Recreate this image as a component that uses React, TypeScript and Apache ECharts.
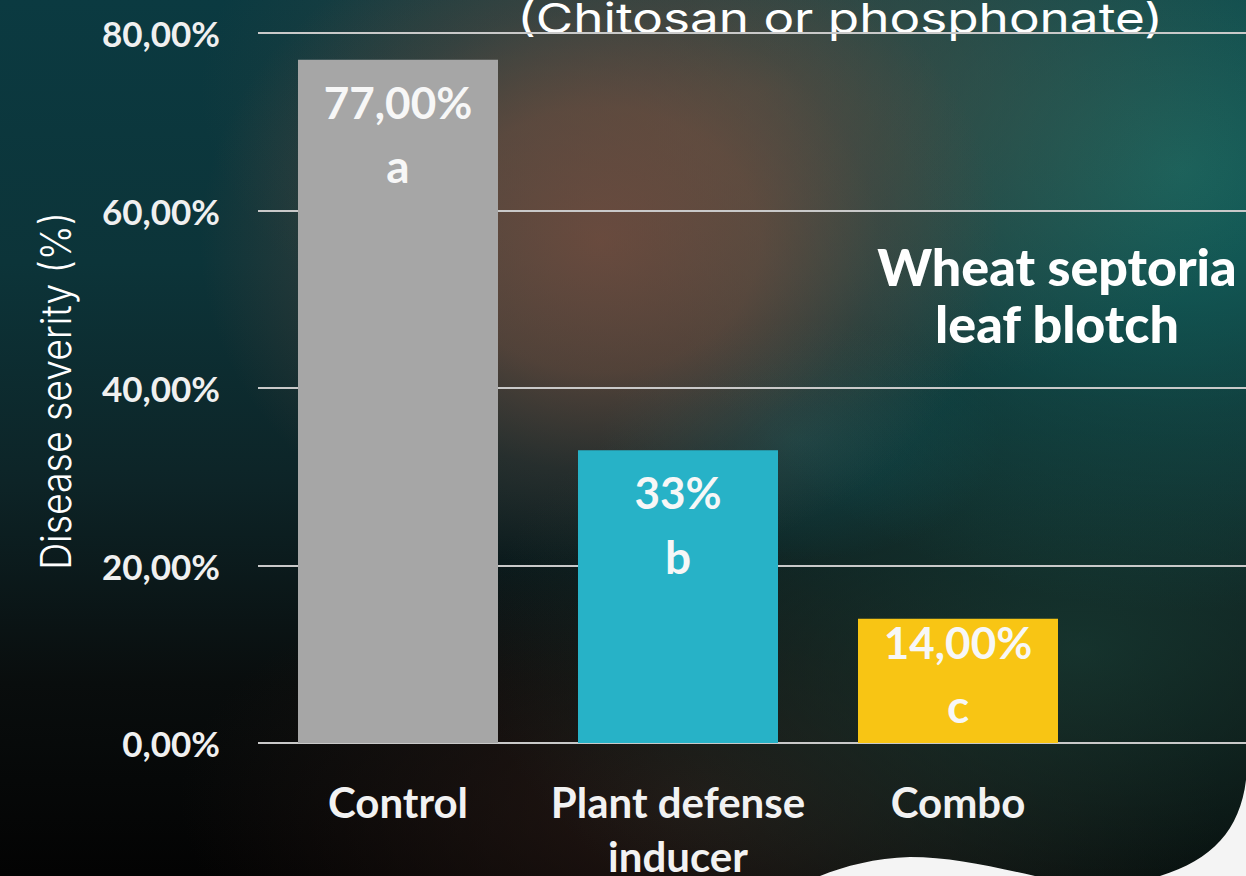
import React, { useEffect, useRef } from "react";
import * as echarts from "echarts";

const categories = ["Control", "Plant defense\ninducer", "Combo"];
const severity = [77, 33, 14];
const valueLabels = ["77,00%", "33%", "14,00%"];
const letters = ["a", "b", "c"];
const barColors = ["#a6a6a6", "#27b2c7", "#f8c514"];
const yMin = 0;
const yMax = 80;
const yStep = 20;
const titleText = "(Chitosan or phosphonate)";
const noteLines = ["Wheat septoria", "leaf blotch"];
const yName = "Disease severity (%)";

const SHAPE_D =
  "M 820 876 C 845 866 875 858 910 857 C 950 857 990 866 1035 876 Z M 1246 780 C 1240 830 1212 860 1160 876 L 1246 876 Z";
let registered = false;
function ensureShape() {
  if (registered) return;
  echarts.graphic.registerShape("bgCorner", echarts.graphic.extendPath(SHAPE_D, {}));
  registered = true;
}

const fmtTick = (v: number) => v.toFixed(2).replace(".", ",") + "%";

export default function App() {
  const ref = useRef<HTMLDivElement>(null);
  useEffect(() => {
    if (!ref.current) return;
    ensureShape();
    const chart = echarts.init(ref.current, null, { renderer: "svg" });
    const option: any = {
      animation: false,
      backgroundColor: "transparent",
      grid: [
        { left: 258, width: 840, top: 33, bottom: 133, outerBoundsMode: "none", containLabel: false },
        { left: 258, right: 0, top: 33, bottom: 133, outerBoundsMode: "none", containLabel: false },
      ],
      xAxis: [
        {
          type: "category",
          gridIndex: 0,
          data: categories,
          axisLine: { show: false },
          axisTick: { show: false },
          axisLabel: {
            interval: 0,
            margin: 32,
            color: "#f2f2f2",
            fontFamily: "Lato",
            fontWeight: "bold",
            fontSize: 42,
            lineHeight: 54,
          },
        },
        { type: "value", gridIndex: 1, show: false, min: 0, max: 1 },
      ],
      yAxis: [
        {
          type: "value",
          gridIndex: 0,
          min: yMin,
          max: yMax,
          interval: yStep,
          axisLine: { show: false },
          axisTick: { show: false },
          splitLine: { show: false },
          axisLabel: {
            margin: 38,
            color: "#f0f0f0",
            fontFamily: "Lato",
            fontWeight: "bold",
            fontSize: 35,
            formatter: fmtTick,
          },
        },
        {
          type: "value",
          gridIndex: 1,
          min: yMin,
          max: yMax,
          interval: yStep,
          axisLine: { show: false },
          axisTick: { show: false },
          axisLabel: { show: false },
          splitLine: { show: true, lineStyle: { color: "#c9c9c9", width: 2 } },
        },
      ],
      series: [
        {
          type: "bar",
          xAxisIndex: 0,
          yAxisIndex: 0,
          barWidth: 200,
          data: severity.map((v, i) => ({
            value: v,
            itemStyle: { color: barColors[i] },
            label: i === 2 ? { distance: -9 } : undefined,
          })),
          label: {
            show: true,
            position: "insideTop",
            distance: 10,
            formatter: (p: any) => `{v|${valueLabels[p.dataIndex]}}\n{l|${letters[p.dataIndex]}}`,
            rich: {
              v: { fontFamily: "Lato", fontWeight: "bold", fontSize: 44, lineHeight: 64, color: "#f7f7f7" },
              l: { fontFamily: "Lato", fontWeight: "bold", fontSize: 46, lineHeight: 64, color: "#f7f7f7" },
            },
          },
        },
      ],
      graphic: [
        {
          type: "text",
          x: 840,
          y: 18,
          z: -1,
          scaleX: 1.25,
          style: {
            text: titleText,
            fill: "#ffffff",
            font: '400 41px "Inter"',
            lineHeight: 36,
            align: "center",
            verticalAlign: "middle",
          },
        },
        {
          type: "text",
          x: 56,
          y: 391,
          rotation: Math.PI / 2,
          scaleX: 0.89,
          style: {
            text: yName,
            fill: "#ffffff",
            font: '300 42px "Inter"',
            align: "center",
            verticalAlign: "middle",
          },
        },
        {
          type: "text",
          x: 1057,
          y: 266,
          style: {
            text: noteLines[0],
            fill: "#ffffff",
            font: '900 52px "Lato"',
            align: "center",
            verticalAlign: "middle",
          },
        },
        {
          type: "text",
          x: 1057,
          y: 323,
          style: {
            text: noteLines[1],
            fill: "#ffffff",
            font: '900 52px "Lato"',
            align: "center",
            verticalAlign: "middle",
          },
        },
        {
          type: "bgCorner",
          x: 0,
          y: 0,
          scaleX: 1,
          scaleY: 1,
          style: { fill: "#f4f4f4" },
        },
      ],
    };
    chart.setOption(option);
    return () => chart.dispose();
  }, []);

  const bg = [
    "radial-gradient(ellipse 400px 330px at 600px 240px, rgba(132,80,63,0.72) 0%, rgba(128,80,62,0.58) 40%, rgba(115,74,60,0.25) 70%, rgba(110,72,58,0) 100%)",
    "radial-gradient(ellipse 560px 320px at 760px 90px, rgba(92,80,66,0.6) 0%, rgba(92,80,66,0) 100%)",
    "radial-gradient(ellipse 540px 440px at 1180px 170px, rgba(22,108,100,0.85) 0%, rgba(20,95,90,0.4) 55%, rgba(20,90,85,0) 100%)",
    "radial-gradient(ellipse 200px 120px at 800px 440px, rgba(18,80,84,0.6) 0%, rgba(18,80,84,0) 100%)",
    "radial-gradient(ellipse 600px 350px at 1080px 650px, rgba(25,62,54,0.75) 0%, rgba(25,62,54,0) 100%)",
    "radial-gradient(ellipse 520px 260px at 700px 800px, rgba(38,24,20,0.9) 0%, rgba(38,24,20,0) 100%)",
    "linear-gradient(180deg, #0b3a41 0%, #0c3439 30%, #0d2427 55%, #090d0d 78%, #030303 100%)",
  ].join(",");

  return (
    <div
      ref={ref}
      style={{
        position: "fixed",
        left: 0,
        top: 0,
        width: 1246,
        height: 876,
        background: bg,
      }}
    />
  );
}
